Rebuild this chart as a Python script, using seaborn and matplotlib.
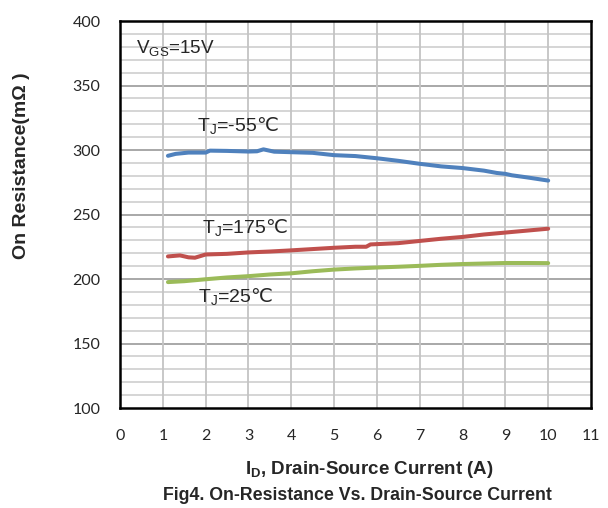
import numpy as np
import pandas as pd
import matplotlib
matplotlib.use("Agg")
import matplotlib.pyplot as plt
import seaborn as sns

# ---- data ----
id_m55 = [1.12, 1.3, 1.6, 2.0, 2.1, 2.5, 3.0, 3.2, 3.35, 3.6, 4.0, 4.5, 5.0, 5.5, 6.0, 6.5, 7.0, 7.5, 8.0, 8.5, 8.8, 9.0, 9.15, 9.5, 10.0]
rds_m55 = [295.5, 297, 298, 298, 299.5, 299.3, 298.8, 299, 300.5, 298.7, 298.3, 297.8, 296, 295.3, 293.6, 291.6, 289.3, 287.3, 286, 284, 282.2, 281.5, 280.4, 278.8, 276.3]

id_175 = [1.12, 1.4, 1.6, 1.75, 2.0, 2.5, 3.0, 3.5, 4.0, 4.5, 5.0, 5.5, 5.75, 5.85, 6.5, 7.0, 7.5, 8.0, 8.5, 9.0, 9.5, 10.0]
rds_175 = [217.5, 218.3, 216.8, 216.5, 219, 219.5, 220.6, 221.3, 222.2, 223.2, 224.2, 225, 225, 226.8, 227.8, 229.5, 231.2, 232.6, 234.5, 236, 237.5, 239]

id_25 = [1.12, 1.5, 2.0, 2.5, 3.0, 3.5, 4.0, 4.5, 5.0, 5.5, 6.0, 6.5, 7.0, 7.5, 8.0, 8.5, 9.0, 9.5, 10.0]
rds_25 = [197.6, 198.3, 199.8, 201.2, 202.2, 203.5, 204.4, 206, 207.3, 208.2, 208.9, 209.5, 210.2, 211, 211.6, 212, 212.4, 212.4, 212.3]

series_names = ["TJ=-55", "TJ=175", "TJ=25"]
palette = ["#4F81BD", "#C0504D", "#9BBB59"]
xticks = list(range(0, 12))
yticks = list(range(100, 401, 50))

df = pd.concat([
    pd.DataFrame({"I": id_m55, "R": rds_m55, "s": series_names[0]}),
    pd.DataFrame({"I": id_175, "R": rds_175, "s": series_names[1]}),
    pd.DataFrame({"I": id_25, "R": rds_25, "s": series_names[2]}),
], ignore_index=True)

sns.set_style("white")
plt.rcParams["font.family"] = ["Liberation Sans", "DejaVu Sans"]
plt.rcParams["mathtext.fontset"] = "dejavusans"

fig = plt.figure(figsize=(6.08, 5.08), dpi=100)
ax = fig.add_axes([120/608, 1 - 408/508, (591-120)/608, (408-21)/508])

ax.set_xlim(0, 11)
ax.set_ylim(100, 400)

# grid
for yv in range(110, 400, 10):
    major = (yv % 50 == 0)
    ax.axhline(yv, color="#A8A8A8" if major else "#D2D2D2", lw=1.4 if major else 1.3, zorder=0)
for xv in range(1, 11):
    ax.axvline(xv, color="#C4C4C4", lw=1.3, zorder=0)

sns.lineplot(data=df, x="I", y="R", hue="s", palette=palette, hue_order=series_names,
             sort=False, estimator=None, lw=2.9, ax=ax, legend=False, zorder=3)

ax.set_xticks(xticks)
ax.set_yticks(yticks)
ax.set_xticklabels([str(v) for v in xticks], fontsize=11.5, family=["Lato", "DejaVu Sans"])
ax.set_yticklabels([str(v) for v in yticks], fontsize=11.5, family=["Lato", "DejaVu Sans"])
ax.tick_params(axis="y", length=0, pad=14)
ax.tick_params(axis="x", length=0, pad=15)

for sp in ax.spines.values():
    sp.set_visible(True)
    sp.set_color("black")
    sp.set_linewidth(1.8)

ax.set_xlabel("")
ax.set_ylabel("")

fig.text(22/608, 1 - 166/508, "On Resistance(mΩ )", rotation=90, ha="center", va="center",
         fontsize=14, fontweight="bold")
fig.text(369/608, 1 - 474/508, r"I$_\mathregular{D}$, Drain-Source Current (A)", ha="center", va="baseline",
         fontsize=13.5, fontweight="bold")
fig.text(357/608, 1 - 500/508, "Fig4. On-Resistance Vs. Drain-Source Current", ha="center", va="baseline",
         fontsize=12.8, fontweight="bold")

ax.text(0.37, 375, r"V$_\mathregular{GS}$=15V", fontsize=13.6, va="baseline", ha="left")
ax.text(1.79, 314, r"T$_\mathregular{J}$=-55$\mathrm{℃}$", fontsize=14, va="baseline", ha="left")
ax.text(1.91, 234.9, r"T$_\mathregular{J}$=175$\mathrm{℃}$", fontsize=14, va="baseline", ha="left")
ax.text(1.82, 181.4, r"T$_\mathregular{J}$=25$\mathrm{℃}$", fontsize=14, va="baseline", ha="left")

fig.savefig("out.png", dpi=100)
